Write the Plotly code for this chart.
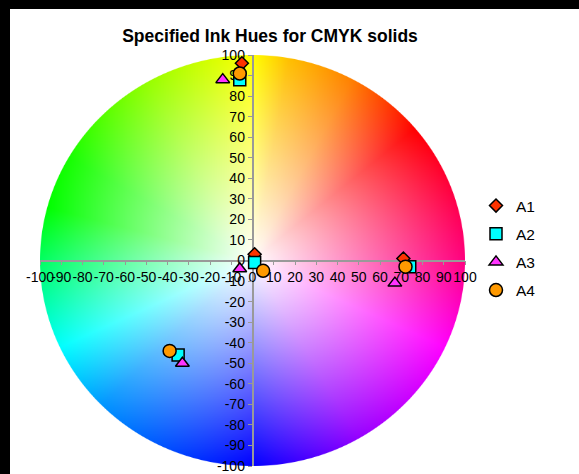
import base64
import struct
import zlib

import numpy as np
import plotly.graph_objects as go

# ---------------- data ----------------
title_text = "Specified Ink Hues for CMYK solids"
series_names = ["A1", "A2", "A3", "A4"]

a1_x = [1, 71, -5]
a1_y = [3, 1, 96]

a2_x = [1, 74, -6, -35]
a2_y = [-1, -3, 88, -46]

a3_x = [-6, 67, -14, -33]
a3_y = [-4, -11, 88, -50]

a4_x = [5, 72, -6, -39]
a4_y = [-5, -3, 91, -44]

axis_ticks = list(range(-100, 101, 10))

# ---------------- styles ----------------
series_x = [a1_x, a2_x, a3_x, a4_x]
series_y = [a1_y, a2_y, a3_y, a4_y]
series_symbols = ["diamond", "square", "triangle-up", "circle"]
series_colors = ["#FF3300", "#00FFFF", "#FF33FF", "#FF9900"]
series_sizes = [10, 12, 12, 13]

FIG_W, FIG_H = 579, 474
M_L, M_R, M_T, M_B = 40, 114, 55, 8
PLOT_W = FIG_W - M_L - M_R
PLOT_H = FIG_H - M_T - M_B
FONT = "Liberation Sans, Arial, Helvetica, sans-serif"

# hue wheel background (angle in degrees -> hue in degrees, unwrapped)
WHEEL_ANGLES = [0, 20, 40, 62, 80, 90, 120, 150, 165, 180, 205, 225, 270, 300, 335, 360]
WHEEL_HUES = [330, 345, 360, 390, 405, 420, 445, 475, 480, 503, 540, 565, 600, 635, 660, 690]


def hsv_to_rgb(h, s, v):
    i = np.floor(h * 6).astype(int) % 6
    f = h * 6 - np.floor(h * 6)
    p = v * (1 - s)
    q = v * (1 - f * s)
    t = v * (1 - (1 - f) * s)
    r = np.choose(i, [v, q, p, p, t, v])
    g = np.choose(i, [t, v, v, q, p, p])
    b = np.choose(i, [p, p, t, v, v, q])
    return r, g, b


def wheel_png(n=600):
    c = (np.arange(n) + 0.5) / n * 2 - 1
    xx, yy = np.meshgrid(c, -c)
    rr = np.sqrt(xx ** 2 + yy ** 2)
    th = np.degrees(np.arctan2(yy, xx)) % 360
    hue = (np.interp(th, WHEEL_ANGLES, WHEEL_HUES) % 360) / 360.0
    sat = np.clip(rr, 0, 1)
    val = np.ones_like(rr)
    r, g, b = hsv_to_rgb(hue, sat, val)
    alpha = np.clip((1 - rr) * n / 2 + 0.5, 0, 1)
    img = np.stack([r, g, b, alpha], axis=-1)
    img = (np.clip(img, 0, 1) * 255 + 0.5).astype(np.uint8)
    raw = b"".join(b"\x00" + row.tobytes() for row in img)

    def chunk(tag, data):
        return (struct.pack(">I", len(data)) + tag + data
                + struct.pack(">I", zlib.crc32(tag + data) & 0xFFFFFFFF))

    png = (b"\x89PNG\r\n\x1a\n"
           + chunk(b"IHDR", struct.pack(">IIBBBBB", n, n, 8, 6, 0, 0, 0))
           + chunk(b"IDAT", zlib.compress(raw, 9))
           + chunk(b"IEND", b""))
    return "data:image/png;base64," + base64.b64encode(png).decode("ascii")


fig = go.Figure()
for i, name in enumerate(series_names):
    fig.add_trace(go.Scatter(
        x=series_x[i], y=series_y[i], mode="markers", name=name,
        legendgroup=name,
        marker=dict(symbol=series_symbols[i], color=series_colors[i],
                    size=series_sizes[i], line=dict(color="black", width=1.5)),
    ))

axis_common = dict(
    range=[-100, 100], tickmode="array", tickvals=axis_ticks,
    ticktext=[str(t) for t in axis_ticks],
    showgrid=False, zeroline=False, showline=True, automargin=False,
    linecolor="#999999", linewidth=1.5, ticks="outside", ticklen=4,
    tickcolor="#999999", tickwidth=1, tickangle=0,
    tickfont=dict(family=FONT, size=14, color="black"),
    anchor="free", position=0.5, layer="below traces", fixedrange=True,
)

px_x = lambda p: (p - M_L) / PLOT_W
px_y = lambda p: 1 - (p - M_T) / PLOT_H

fig.update_layout(
    width=FIG_W, height=FIG_H,
    margin=dict(l=M_L, r=M_R, t=M_T, b=M_B, pad=0, autoexpand=False),
    paper_bgcolor="white", plot_bgcolor="white",
    xaxis=dict(axis_common, domain=[0, 1]),
    yaxis=dict(axis_common, domain=[0, 1]),
    title=dict(text="<b>" + title_text + "</b>", x=270 / FIG_W, xref="container",
               xanchor="center", y=1 - 36 / FIG_H, yref="container", yanchor="middle",
               font=dict(family=FONT, size=17.5, color="black")),
    legend=dict(x=px_x(476), xanchor="left", y=px_y(189), yanchor="top",
                bgcolor="rgba(0,0,0,0)", tracegroupgap=5,
                font=dict(family=FONT, size=15.5, color="black")),
    showlegend=True,
    images=[dict(source=wheel_png(), xref="x", yref="y", x=-100, y=100,
                 sizex=200, sizey=200, sizing="stretch", xanchor="left",
                 yanchor="top", layer="below")],
    shapes=[
        dict(type="rect", xref="paper", yref="paper", x0=px_x(-2), x1=px_x(10),
             y0=px_y(FIG_H + 2), y1=px_y(-2), fillcolor="black", line=dict(width=0)),
        dict(type="rect", xref="paper", yref="paper", x0=px_x(-2), x1=px_x(FIG_W + 2),
             y0=px_y(9), y1=px_y(-2), fillcolor="black", line=dict(width=0)),
    ],
)

fig.write_html("out.html", config={"displayModeBar": False},
               post_script="document.body.style.margin='0';")
